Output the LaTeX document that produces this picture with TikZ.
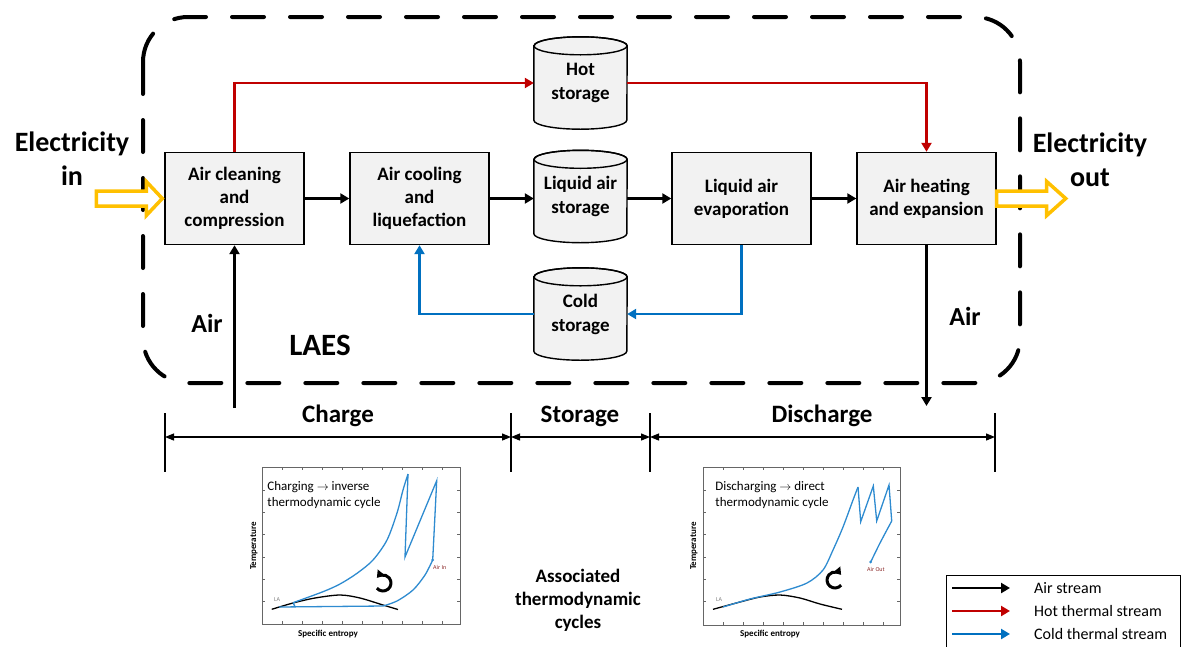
\documentclass[tikz,border=0pt]{standalone}
\usepackage{fontspec}
\setmainfont{Carlito}
\usetikzlibrary{arrows.meta}
\definecolor{hotred}{HTML}{C00000}
\definecolor{coldblue}{HTML}{0070C0}
\definecolor{elecyellow}{HTML}{FFC000}
\definecolor{boxgray}{HTML}{F2F2F2}
\definecolor{curveblue}{HTML}{2E8BD0}
\definecolor{framegray}{HTML}{666666}
\definecolor{tagred}{HTML}{8B2A2A}
\newcommand{\setfs}[2]{\fontsize{#1}{#2}\selectfont}
% cylinder outline drawn around an (empty) node
\newcommand{\drawtank}[1]{%
  \draw[line width=1.4pt, fill=boxgray]
    ([yshift=-9pt]#1.north west) -- ([yshift=9pt]#1.south west)
    arc[start angle=180, end angle=360, x radius=46.5pt, y radius=9pt]
    -- ([yshift=-9pt]#1.north east)
    arc[start angle=0, end angle=180, x radius=46.5pt, y radius=9pt] -- cycle;
  \draw[line width=1.4pt] ([yshift=-9pt]#1.north) ellipse[x radius=46.5pt, y radius=9pt];}
\begin{document}
\begin{tikzpicture}[x=1pt, y=-1pt,
  unit/.style={draw, line width=1.4pt, fill=boxgray, minimum width=139pt,
    minimum height=92pt, inner sep=0pt, align=center,
    font=\setfs{19}{23}\bfseries},
  tank/.style={minimum width=93pt, minimum height=92pt, inner sep=0pt},
  tanktext/.style={align=center, inner sep=0pt, font=\setfs{19}{24}\bfseries},
  flow/.style={line width=2.4pt, -{Triangle[length=9pt,width=10pt]}},
  airflow/.style={flow, color=black},
  hotflow/.style={flow, color=hotred},
  coldflow/.style={flow, color=coldblue},
  bigtext/.style={font=\setfs{28}{34}\bfseries, align=center, inner sep=0pt},
  phase/.style={font=\setfs{25}{30}\bfseries, inner sep=0pt},
  dimline/.style={line width=1.2pt, {Triangle[length=9pt,width=7pt]}-{Triangle[length=9pt,width=7pt]}},
  elec/.style={draw=elecyellow, line width=3.5pt, fill=white, line join=miter},
  frame/.style={draw=framegray, line width=0.8pt},
  curve/.style={draw=curveblue, line width=1.3pt},
  dome/.style={draw=black, line width=1.3pt},
  small/.style={font=\setfs{13}{16}, align=left, inner sep=0pt},
  axis/.style={font=\setfs{9}{10}\bfseries, inner sep=0pt},
  tag/.style={font=\setfs{6}{7}, inner sep=0pt},
  turn/.style={line width=3pt, -{Triangle[length=7pt,width=9pt]}},
  legendtext/.style={font=\setfs{16}{18}, anchor=west, inner sep=0pt}
]
\useasboundingbox (0,0) rectangle (1182,646);

% system boundary
\draw[line width=4pt, line cap=round, dash pattern=on 32pt off 26pt,
  rounded corners=45pt] (143,17) rectangle (1020,383);

% process units
\node[unit] (acc) at (234.5,198.5) {Air cleaning\\and\\compression};
\node[unit] (acl) at (419.5,198.5) {Air cooling\\and\\liquefaction};
\node[unit] (lae) at (741.5,198.5) {Liquid air\\evaporation};
\node[unit] (ahe) at (926.5,198.5) {Air heating\\and expansion};

% storage tanks
\node[tank] (hs) at (580.5,83) {};
\drawtank{hs}
\node[tanktext] at (hs) {Hot\\storage};
\node[tank] (las) at (580.5,196.5) {};
\drawtank{las}
\node[tanktext] at (las) {Liquid air\\storage};
\node[tank] (cs) at (580.5,314) {};
\drawtank{cs}
\node[tanktext] at (cs) {Cold\\storage};

% air stream
\coordinate (airin) at (234.5,408);
\coordinate (airout) at (926.5,406);
\draw[airflow] (airin) -- (acc.south);
\draw[airflow] (acc.east) -- (acl.west);
\draw[airflow] (acl.east) -- (acl.east -| las.west);
\draw[airflow] (lae.west -| las.east) -- (lae.west);
\draw[airflow] (lae.east) -- (ahe.west);
\draw[airflow] (ahe.south) -- (airout);

% hot thermal stream
\draw[hotflow] (acc.north) |- (hs.west);
\draw[hotflow] (hs.east) -| (ahe.north);

% cold thermal stream
\draw[coldflow] (lae.south) |- (cs.east);
\draw[coldflow] (cs.west) -| (acl.south);

% electricity in / out
\draw[elec] ([xshift=-68pt,yshift=-7.5pt]acc.west) -- ([xshift=-18pt,yshift=-7.5pt]acc.west)
  -- ([xshift=-18pt,yshift=-17pt]acc.west) -- ([xshift=-2pt]acc.west)
  -- ([xshift=-18pt,yshift=17pt]acc.west) -- ([xshift=-18pt,yshift=7.5pt]acc.west)
  -- ([xshift=-68pt,yshift=7.5pt]acc.west) -- cycle;
\draw[elec] ([xshift=0pt,yshift=-7.5pt]ahe.east) -- ([xshift=50pt,yshift=-7.5pt]ahe.east)
  -- ([xshift=50pt,yshift=-17pt]ahe.east) -- ([xshift=69pt]ahe.east)
  -- ([xshift=50pt,yshift=17pt]ahe.east) -- ([xshift=50pt,yshift=7.5pt]ahe.east)
  -- ([xshift=0pt,yshift=7.5pt]ahe.east) -- cycle;

\node[bigtext] (elin) at (72,159) {Electricity\\in};
\node[bigtext] (elout) at (1090,160) {Electricity\\out};
\node[bigtext, font=\setfs{26}{30}\bfseries] (airl) at (207,323) {Air};
\node[bigtext, font=\setfs{26}{30}\bfseries] (airr) at (965,316) {Air};
\node[bigtext, font=\setfs{31}{36}\bfseries] (laes) at (320,345) {LAES};

% phases
\foreach \n/\x in {t1/165, t2/511, t3/650, t4/995} {
  \coordinate (\n) at (\x,437);
  \draw[line width=1.2pt] (\x,413) -- (\x,472);
}
\draw[dimline] (t1) -- (t2);
\draw[dimline] (t2) -- (t3);
\draw[dimline] (t3) -- (t4);
\node[phase] (chg) at (338,416) {Charge};
\node[phase] (sto) at (580,416) {Storage};
\node[phase] (dis) at (822,416) {Discharge};

\node[font=\setfs{19}{23}\bfseries, align=center, inner sep=0pt] (assoc) at (578,600)
  {Associated\\thermodynamic\\cycles};

% charging T-s diagram
\draw[frame] (262,467) rectangle (460,624);
\foreach \x in {282,302,...,442} {
  \draw[frame] (\x,467) -- (\x,470);
  \draw[frame] (\x,624) -- (\x,621);
}
\foreach \y in {490,512,534,557,579,601} {
  \draw[frame] (262,\y) -- (265,\y);
  \draw[frame] (460,\y) -- (457,\y);
}
\node[small] (ctext) at (324,495) {Charging $\rightarrow$ inverse\\thermodynamic cycle};
\node[axis, rotate=90] (ctemp) at (254,546) {Temperature};
\node[axis] (cent) at (328,634) {Specific entropy};
\draw[dome] plot[smooth] coordinates {(271.7,609.3) (293,603) (315,598) (340,595) (360,598) (383,605) (398,609.5)};
\draw[curve] (279,607) -- (383,606);
\draw[curve] (295,606.5) -- (293,602.7);
\draw[curve] plot[smooth] coordinates {(293,602.7) (323,591.7) (340,584) (357,573.3) (373,560) (387,540) (397,513) (403,490) (408,474)};
\draw[curve] (408,474) -- (405,557) -- (436.7,480.7) -- (432.7,560);
\draw[curve] plot[smooth] coordinates {(432.7,560) (425,575) (413,590) (397,601) (383,606)};
\fill[curveblue] (432.7,560) circle[radius=1.5pt];
\node[tag, text=gray] (cla) at (277,600) {LA};
\node[tag, text=tagred, anchor=west] (cain) at (433,567) {Air In};
\draw[turn] (383,583) ++(220:8pt) arc[start angle=220, end angle=500, radius=8pt];

% discharging T-s diagram
\draw[frame] (703,467) rectangle (900,625);
\foreach \x in {723,743,...,883} {
  \draw[frame] (\x,467) -- (\x,470);
  \draw[frame] (\x,625) -- (\x,622);
}
\foreach \y in {490,512,534,557,579,601} {
  \draw[frame] (703,\y) -- (706,\y);
  \draw[frame] (900,\y) -- (897,\y);
}
\node[small] (dtext) at (772,495) {Discharging $\rightarrow$ direct\\thermodynamic cycle};
\node[axis, rotate=90] (dtemp) at (694,546) {Temperature};
\node[axis] (dent) at (770,634) {Specific entropy};
\draw[dome] plot[smooth] coordinates {(713,609.3) (740,602) (760,597) (780,595) (800,598) (820,604) (842,609.3)};
\draw[curve] plot[smooth] coordinates {(723,607) (750,599) (780,592) (807,583) (823,570) (833,550) (843,527) (853,500) (858,487)};
\draw[curve] (858,487) -- (860.7,521.7) -- (873.3,486) -- (876.7,521) -- (889,485) -- (891.7,521);
\draw[curve] plot[smooth] coordinates {(891.7,521) (880,543) (870.7,562)};
\fill[curveblue] (870.7,562) circle[radius=1.5pt];
\node[tag, text=gray] (dla) at (719,600) {LA};
\node[tag, text=tagred, anchor=west] (daout) at (867,569) {Air Out};
\draw[turn] (835,580) ++(-40:8pt) arc[start angle=-40, end angle=-320, radius=8pt];

% legend
\draw[line width=1pt, fill=white] (946,575) rectangle (1180,650);
\coordinate (la1) at (952,588); \coordinate (lb1) at (1010,588);
\coordinate (la2) at (952,611); \coordinate (lb2) at (1010,611);
\coordinate (la3) at (952,634); \coordinate (lb3) at (1010,634);
\draw[airflow] (la1) -- (lb1);
\draw[hotflow] (la2) -- (lb2);
\draw[coldflow] (la3) -- (lb3);
\node[legendtext] (lt1) at (1034,588) {Air stream};
\node[legendtext] (lt2) at (1034,611) {Hot thermal stream};
\node[legendtext] (lt3) at (1034,634) {Cold thermal stream};
\end{tikzpicture}
\end{document}
